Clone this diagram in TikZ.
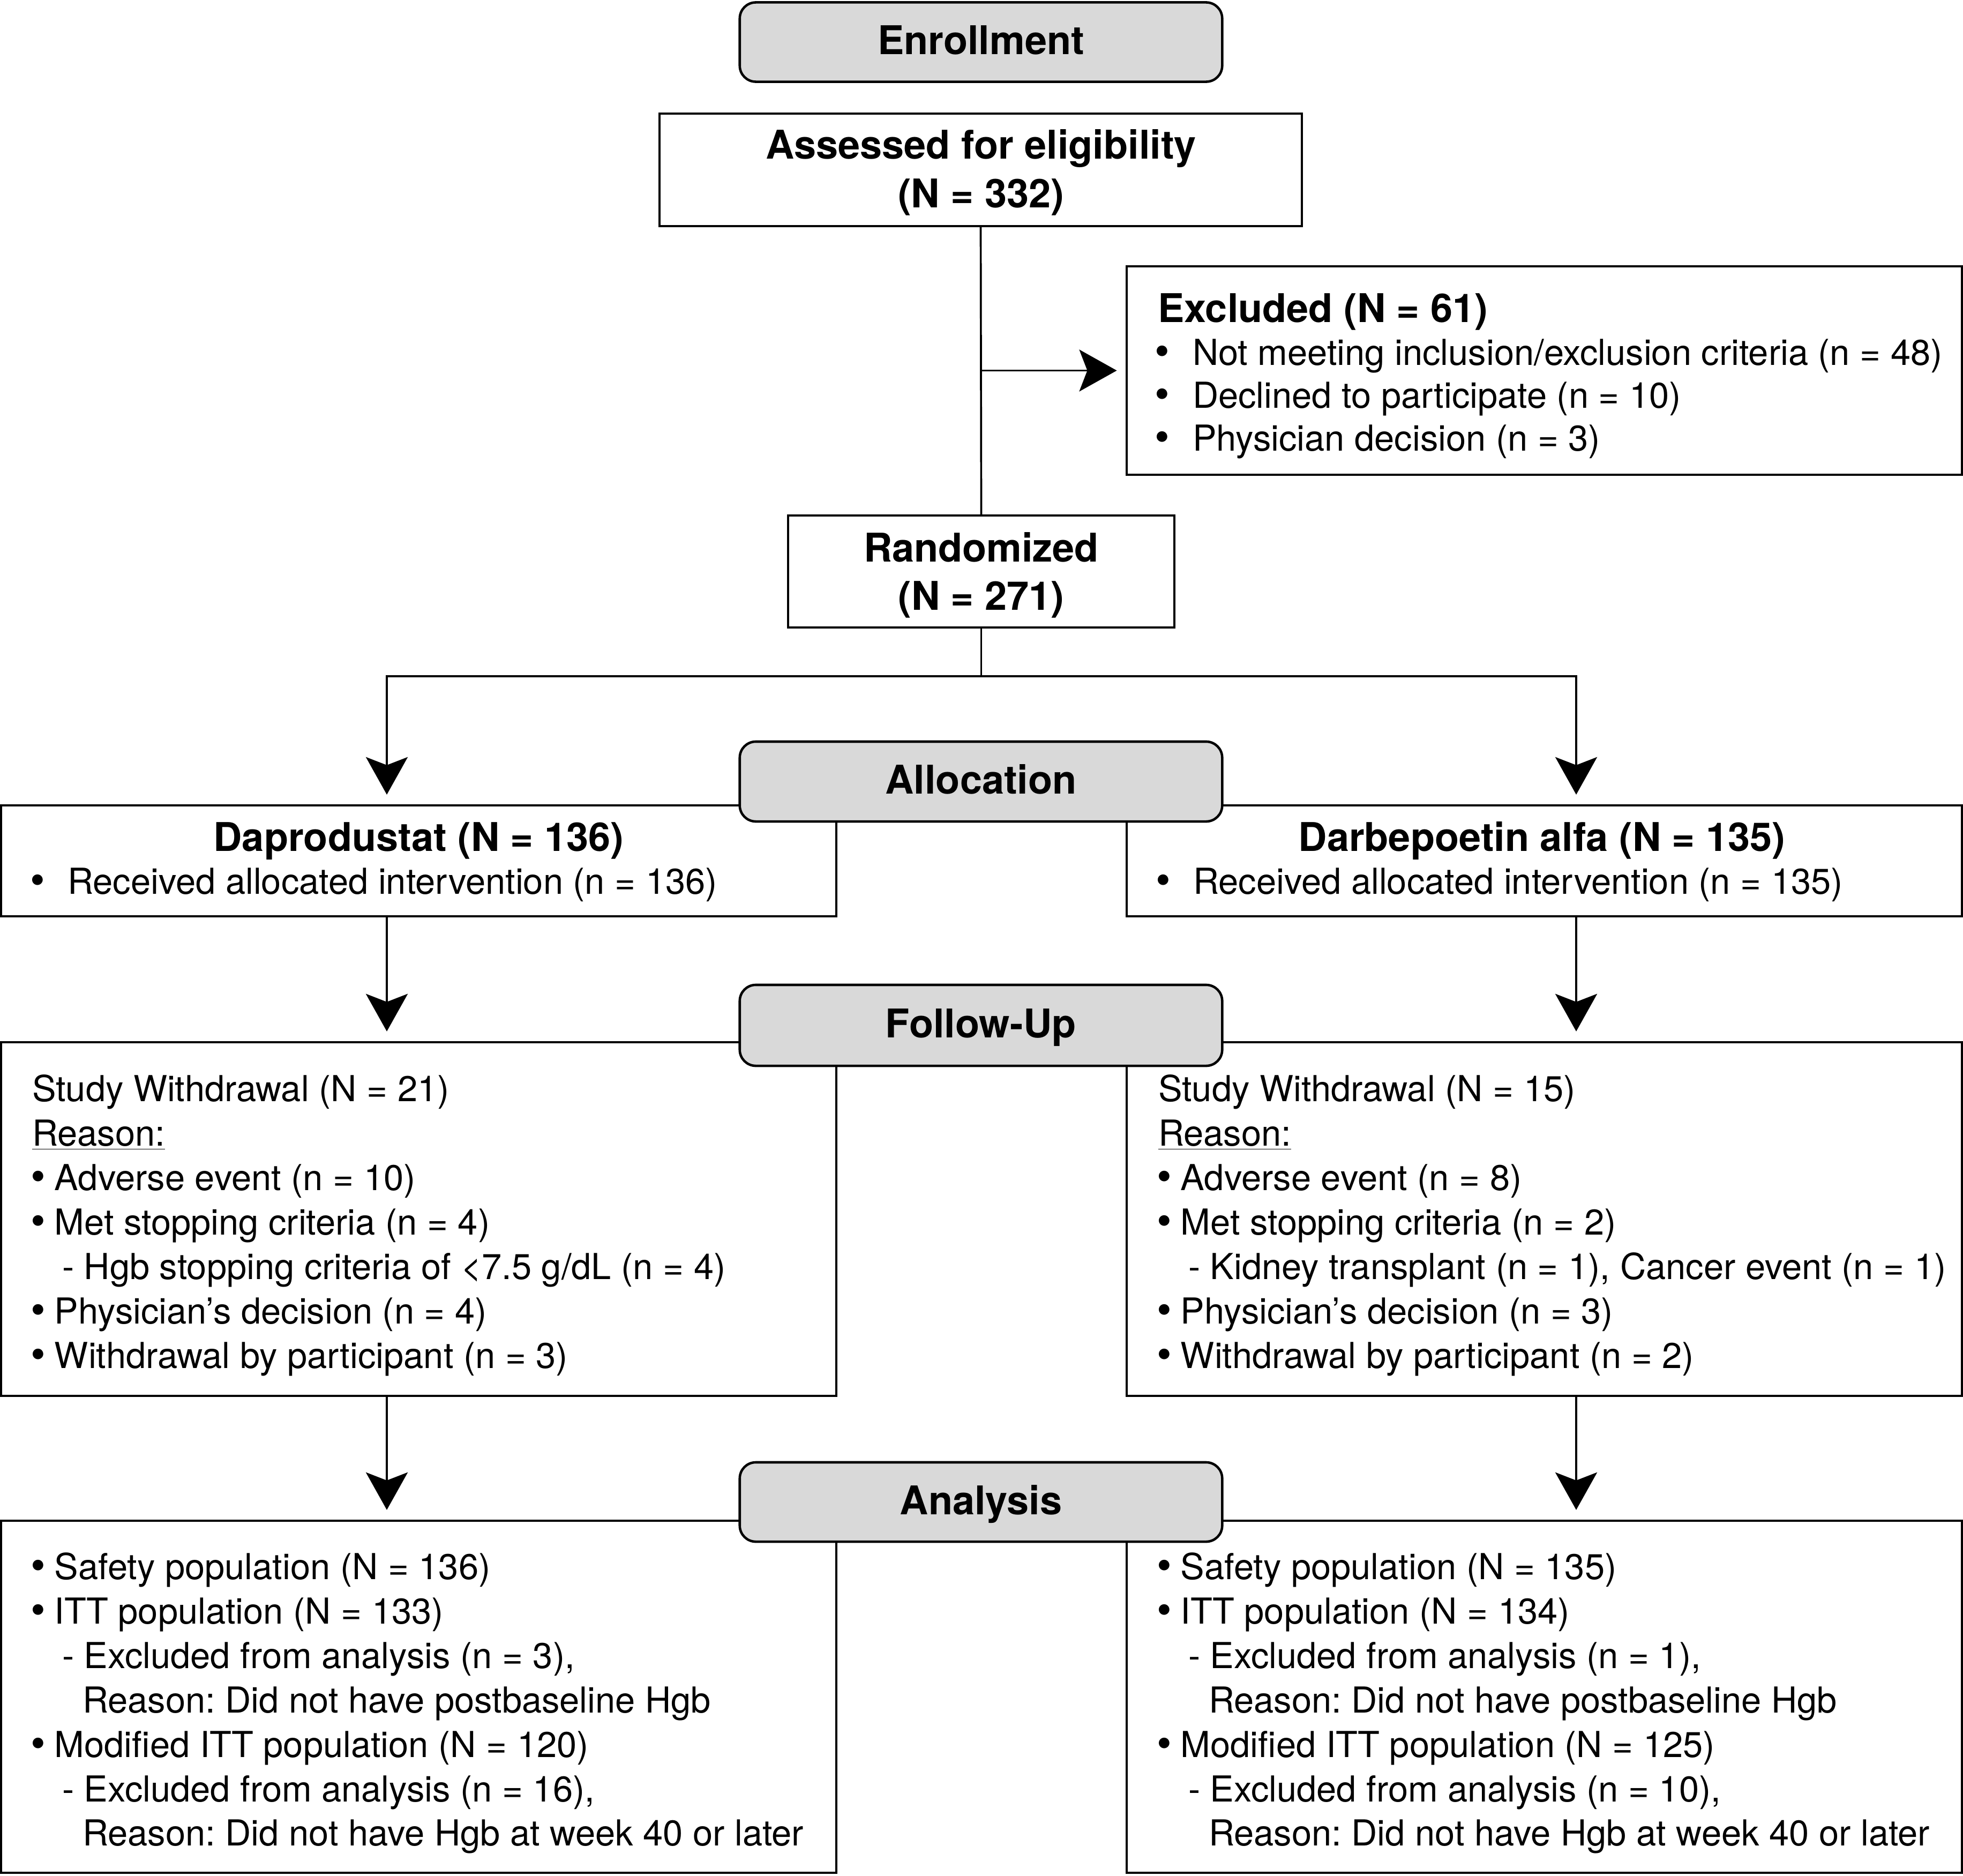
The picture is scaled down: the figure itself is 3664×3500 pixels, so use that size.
\documentclass[tikz,border=0pt]{standalone}
\usepackage{fontspec}
\setmainfont{TeX Gyre Heros}
\usetikzlibrary{arrows.meta,calc}
\frenchspacing
\newcommand\txtreg{\fontsize{19pt}{23.6pt}\selectfont}
\newcommand\txtexc{\fontsize{19pt}{22.76pt}\selectfont}
\newcommand\txtbold{\fontsize{21pt}{25.6pt}\selectfont\bfseries}
\newcommand\bigb[1]{{\fontsize{21pt}{22.76pt}\selectfont\bfseries #1}}
\newcommand\bigbul{\makebox[6.65pt][c]{\raisebox{-0.3pt}{\fontsize{22.5pt}{0pt}\selectfont\textbullet}}}
\newcommand\sbul[1]{\makebox[#1][l]{\bigbul}}
\newcommand\itm{\bigbul\ }
\newcommand\subdash{\hspace*{0.56cm}-\ }
\newcommand\subcont{\hspace*{0.94cm}}
\begin{document}
\begin{tikzpicture}[x=0.01cm,y=-0.01cm,
  box/.style={draw, line width=1.15pt, rectangle, inner sep=0pt, minimum width=15.59cm},
  hdr/.style={draw, line width=1.3pt, rectangle, rounded corners=0.3cm, fill=black!15,
    inner sep=0pt, minimum width=9cm, minimum height=1.48cm, font=\txtbold,
    text height=0.46cm, text depth=0pt},
  conn/.style={line width=1.05pt},
  arr/.style={conn, -{Stealth[length=0.7cm,width=0.78cm,inset=0.15cm]}, shorten >=0.18cm},
  txt/.style={inner sep=0pt, outer sep=0pt}
]
\useasboundingbox (0,0) rectangle (3664,3500);

% boxes
\node[box, minimum width=11.99cm, minimum height=2.10cm] (assess) at (1830.5,317) {};
\node[box, minimum height=3.89cm] (excl) at (2882.5,691.5) {};
\node[box, minimum width=7.21cm, minimum height=2.09cm] (rand) at (1831.5,1066.5) {};
\node[box, minimum height=2.07cm] (dap) at (781.5,1606.5) {};
\node[box, minimum height=2.07cm] (darb) at (2882.5,1606.5) {};
\node[box, minimum height=6.60cm] (fl) at (781.5,2275) {};
\node[box, minimum height=6.60cm] (fr) at (2882.5,2275) {};
\node[box, minimum height=6.57cm] (al) at (781.5,3166.5) {};
\node[box, minimum height=6.57cm] (ar) at (2882.5,3166.5) {};

% coordinates for branches
\coordinate (split) at (1831.5,1262);
\coordinate (bl) at (722,1262);
\coordinate (br) at (2942,1262);

% connectors
\draw[conn] (assess.south) -- (rand.north);
\draw[arr, shorten >=0.16cm] (assess.south |- excl.west) -- (excl.west);
\draw[conn] (rand.south) -- (split);
\draw[arr] (split) -| (bl |- dap.north);
\draw[arr] (split) -| (br |- darb.north);
\draw[arr] (bl |- dap.south) -- (bl |- fl.north);
\draw[arr] (br |- darb.south) -- (br |- fr.north);
\draw[arr] (bl |- fl.south) -- (bl |- al.north);
\draw[arr] (br |- fr.south) -- (br |- ar.north);

% headers
\node[hdr] (enroll) at (1831,78.5) {Enrollment};
\node[hdr, minimum height=1.49cm] (alloc) at (1831,1458.5) {Allocation};
\node[hdr, minimum height=1.51cm] (follow) at (1831,1913.5) {Follow-Up};
\node[hdr] (analysis) at (1831,2803) {Analysis};

% texts
\node[txt, anchor=base, font=\txtbold] (assessT) at (1831,297)
  {\begin{tabular}[t]{@{}c@{}}Assessed for eligibility\\(N = 332)\end{tabular}};
\node[txt, anchor=base, font=\txtbold] (randT) at (1831.5,1048)
  {\begin{tabular}[t]{@{}c@{}}Randomized\\(N = 271)\end{tabular}};

\node[txt, anchor=base west, font=\txtexc] (exclT) at (2161,601)
  {\begin{tabular}[t]{@{}l@{}}
  \bigb{Excluded (N = 61)}\\
  \hspace*{-0.03cm}\sbul{0.68cm}Not meeting inclusion/exclusion criteria (n = 48)\\
  \hspace*{-0.03cm}\sbul{0.68cm}Declined to participate (n = 10)\\
  \hspace*{-0.03cm}\sbul{0.68cm}Physician decision (n = 3)
  \end{tabular}};

\node[txt, anchor=base, font=\txtbold] (dapT) at (781.5,1588) {Daprodustat (N = 136)};
\node[txt, anchor=base west, font=\txtreg] (dapB) at (59,1668)
  {\sbul{0.67cm}Received allocated intervention (n = 136)};
\node[txt, anchor=base, font=\txtbold] (darbT) at (2878,1588) {Darbepoetin alfa (N = 135)};
\node[txt, anchor=base west, font=\txtreg] (darbB) at (2160,1668)
  {\sbul{0.67cm}Received allocated intervention (n = 135)};

\node[txt, anchor=base west, font=\txtreg] (flT) at (60,2055.5)
  {\begin{tabular}[t]{@{}l@{}}
  Study Withdrawal (N = 21)\\
  \underline{Reason:}\\
  \itm Adverse event (n = 10)\\
  \itm Met stopping criteria (n = 4)\\
  \subdash Hgb stopping criteria of <7.5 g/dL (n = 4)\\
  \itm Physician’s decision (n = 4)\\
  \itm Withdrawal by participant (n = 3)
  \end{tabular}};
\node[txt, anchor=base west, font=\txtreg] (frT) at (2162,2055.5)
  {\begin{tabular}[t]{@{}l@{}}
  Study Withdrawal (N = 15)\\
  \underline{Reason:}\\
  \itm Adverse event (n = 8)\\
  \itm Met stopping criteria (n = 2)\\
  \subdash Kidney transplant (n = 1), Cancer event (n = 1)\\
  \itm Physician’s decision (n = 3)\\
  \itm Withdrawal by participant (n = 2)
  \end{tabular}};

\node[txt, anchor=base west, font=\txtreg] (alT) at (60,2947)
  {\begin{tabular}[t]{@{}l@{}}
  \itm Safety population (N = 136)\\
  \itm ITT population (N = 133)\\
  \subdash Excluded from analysis (n = 3),\\
  \subcont Reason: Did not have postbaseline Hgb\\
  \itm Modified ITT population (N = 120)\\
  \subdash Excluded from analysis (n = 16),\\
  \subcont Reason: Did not have Hgb at week 40 or later
  \end{tabular}};
\node[txt, anchor=base west, font=\txtreg] (arT) at (2162,2947)
  {\begin{tabular}[t]{@{}l@{}}
  \itm Safety population (N = 135)\\
  \itm ITT population (N = 134)\\
  \subdash Excluded from analysis (n = 1),\\
  \subcont Reason: Did not have postbaseline Hgb\\
  \itm Modified ITT population (N = 125)\\
  \subdash Excluded from analysis (n = 10),\\
  \subcont Reason: Did not have Hgb at week 40 or later
  \end{tabular}};
\end{tikzpicture}
\end{document}
